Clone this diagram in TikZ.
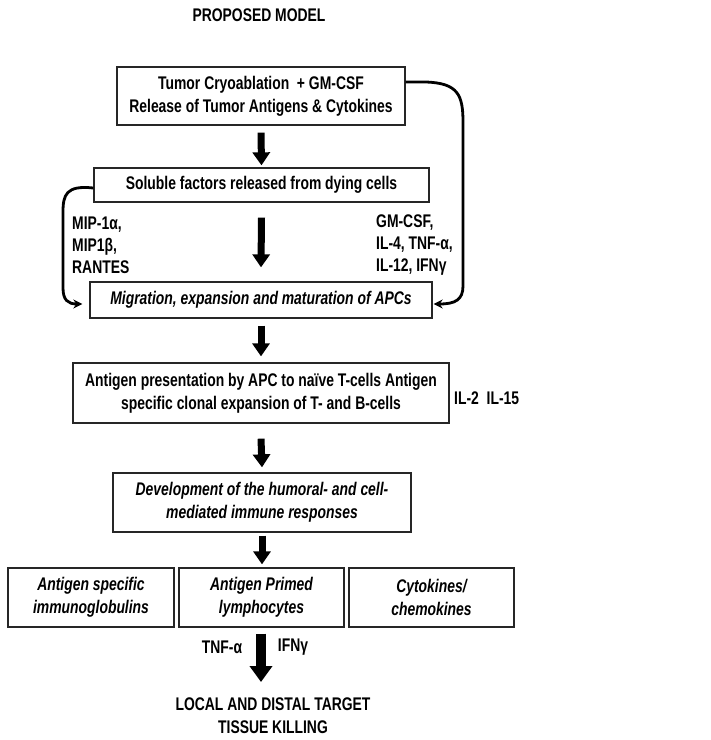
\documentclass[tikz,border=0pt]{standalone}
\usepackage{fontspec}
\setmainfont{Liberation Sans}[FakeStretch=0.76]
\usetikzlibrary{arrows.meta}
\begin{document}
\begin{tikzpicture}[x=1pt,y=-1pt,
  every node/.style={font=\fontsize{18.3}{23}\selectfont\bfseries},
  box/.style={draw=black!85, line width=1.3pt, inner sep=0pt, align=center},
  bigarrow/.style={line width=7pt, -{Triangle[width=17pt,length=13pt]}},
  curvearrow/.style={line width=2.8pt, -{Stealth[length=9pt,width=9pt]}},
  lab/.style={align=left, inner sep=0pt, font=\fontsize{18.3}{22}\selectfont\bfseries}
]
\useasboundingbox[fill=white] (0,0) rectangle (711,740);

\node (title) at (259,15) {PROPOSED MODEL};

\node[box, minimum width=288pt, minimum height=58pt] (b1) at (261,96)
  {Tumor Cryoablation~ + GM-CSF\\Release of Tumor Antigens \& Cytokines};
\node[box, minimum width=335pt, minimum height=34pt] (b2) at (261.5,185)
  {Soluble factors released from dying cells};
\node[box, minimum width=342pt, minimum height=36pt] (b3) at (261,300)
  {\itshape Migration, expansion and maturation of APCs};
\node[box, minimum width=376pt, minimum height=60pt] (b4) at (261,393)
  {Antigen presentation by APC to naïve T-cells Antigen\\specific clonal expansion of T- and B-cells};
\node[box, minimum width=298pt, minimum height=59pt] (b5) at (262,502.5)
  {\itshape Development of the humoral- and cell-\\\itshape mediated immune responses};
\node[box, minimum width=166pt, minimum height=59pt] (b6a) at (91,597.5)
  {\itshape Antigen specific\\\itshape immunoglobulins};
\node[box, minimum width=165pt, minimum height=59pt] (b6b) at (261.5,597.5)
  {\itshape Antigen Primed\\\itshape lymphocytes};
\node[box, minimum width=165pt, minimum height=59pt] (b6c) at (431.5,597.5)
  {\itshape Cytokines/\\\itshape chemokines};

\node[lab, anchor=west] (left) at (72,245) {MIP-1α,\\MIP1β,\\RANTES};
\node[lab, anchor=west] (right) at (376,245) {GM-CSF,\\IL-4, TNF-α,\\IL-12, IFNγ};
\node[lab, anchor=west] (il) at (454,398) {IL-2~ IL-15};
\node[lab, anchor=center] (tnf) at (222,647) {TNF-α};
\node[lab, anchor=center] (ifn) at (293,647) {IFNγ};
\node[align=center] (fin) at (273,716)
  {LOCAL AND DISTAL TARGET\\TISSUE KILLING};
\coordinate (end6) at (261,682);

\draw[bigarrow] ([yshift=-7pt]b1.south) -- ([yshift=2pt]b2.north);
\draw[bigarrow] ([yshift=-15pt]b2.south) -- ([yshift=14pt]b3.north);
\draw[bigarrow] ([yshift=-7pt]b3.south) -- ([yshift=6pt]b4.north);
\draw[bigarrow] ([yshift=-15pt]b4.south) -- ([yshift=5pt]b5.north);
\draw[bigarrow] ([yshift=-3pt]b5.south) -- ([yshift=3pt]b6b.north -| b5.south);
\draw[line width=10pt, -{Triangle[width=22pt,length=16pt]}] ([yshift=-6pt]b6b.south -| end6) -- (end6);

\coordinate (lc1) at (63,212);
\coordinate (lc2) at (63,288);
\coordinate (rc1) at (463,122);
\coordinate (rc2) at (463,286);
\draw[curvearrow] ([yshift=-3pt]b2.west) .. controls (66,185) and (63,195) .. (lc1) -- (lc2)
  .. controls (63,300) and (68,304) .. ([xshift=-7pt,yshift=-4pt]b3.west);
\draw[curvearrow] ([yshift=14pt]b1.east) -- ([xshift=20pt,yshift=14pt]b1.east)
  .. controls (458,83) and (463,95) .. (rc1) -- (rc2)
  .. controls (463,300) and (455,304) .. ([xshift=1pt,yshift=-4pt]b3.east);
\end{tikzpicture}
\end{document}
